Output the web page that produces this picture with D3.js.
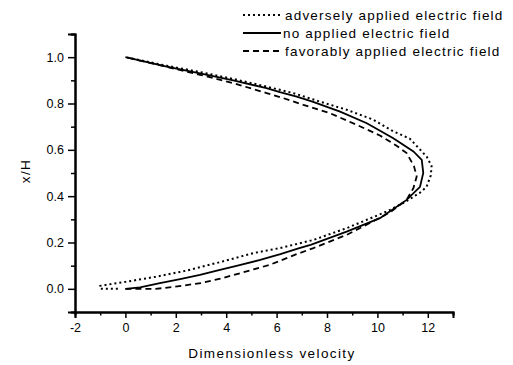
<!DOCTYPE html>
<html>
<head>
<meta charset="utf-8">
<script src="https://cdn.jsdelivr.net/npm/d3@7"></script>
<style>
  html, body { margin: 0; padding: 0; background: #fff; }
  svg { display: block; font-family: "Liberation Sans", Arial, sans-serif; }
</style>
</head>
<body>
<svg id="chart" width="513" height="365"></svg>
<script>
// Velocity profiles across the channel (u = dimensionless velocity, y = x/H)
const seriesNames = [
  "adversely applied electric field",
  "no applied electric field",
  "favorably applied electric field"
];

const adverseU = [-0.3, -1, -1, 0, 1.2, 2.4, 3.75, 5.07, 6.13, 7.46, 8.78, 9.58, 10.4, 11.1, 11.69, 11.95, 12.12, 12.15, 11.96, 11.29, 10.63, 9.84, 8.78, 7.72, 6.66, 5.6, 4.28, 2.96, 1.64, 0];
const adverseY = [0, 0, 0.013, 0.03, 0.052, 0.078, 0.115, 0.154, 0.176, 0.211, 0.262, 0.298, 0.335, 0.375, 0.415, 0.44, 0.49, 0.53, 0.57, 0.648, 0.68, 0.73, 0.773, 0.808, 0.845, 0.873, 0.906, 0.936, 0.963, 1.0];

const noFieldU = [0, 0.58, 1.37, 2.17, 2.96, 3.75, 4.45, 5.35, 6.15, 6.9, 7.35, 8.78, 10.1, 11.16, 11.69, 11.82, 11.76, 11.43, 10.63, 9.58, 8.52, 7.45, 6.8, 6.13, 5.6, 4.28, 2.96, 1.64, 0];
const noFieldY = [0, 0.006, 0.025, 0.042, 0.06, 0.082, 0.10, 0.125, 0.15, 0.176, 0.19, 0.247, 0.305, 0.384, 0.44, 0.50, 0.557, 0.593, 0.65, 0.715, 0.765, 0.807, 0.83, 0.849, 0.866, 0.90, 0.93, 0.959, 1.0];

const favorU = [0, 1.2, 1.9, 3.0, 3.8, 4.5, 5.74, 6.8, 7.46, 8.78, 9.7, 10.5, 11.16, 11.43, 11.56, 11.45, 11.16, 10.76, 10.1, 9.18, 8.12, 7.06, 6.27, 5.6, 4.28, 2.96, 1.64, 0];
const favorY = [0, 0, 0.008, 0.025, 0.045, 0.066, 0.104, 0.15, 0.176, 0.233, 0.284, 0.33, 0.384, 0.435, 0.485, 0.53, 0.586, 0.618, 0.662, 0.708, 0.758, 0.794, 0.823, 0.845, 0.888, 0.924, 0.958, 1.0];

const xTicks = [-2, 0, 2, 4, 6, 8, 10, 12];
const xMinorTicks = [-1, 1, 3, 5, 7, 9, 11, 13];
const yTicks = [0.0, 0.2, 0.4, 0.6, 0.8, 1.0];
const yMinorTicks = [-0.1, 0.1, 0.3, 0.5, 0.7, 0.9, 1.1];

const svg = d3.select("#chart");

const x = d3.scaleLinear().domain([-2, 13]).range([75, 453]);
const y = d3.scaleLinear().domain([-0.1, 1.1]).range([312, 34]);

// Axes: left and bottom only, ticks pointing outward
const xAxis = svg.append("g").attr("transform", `translate(0,${y(-0.1)})`);
xAxis.call(d3.axisBottom(x).tickValues(xTicks).tickSize(6).tickPadding(5).tickFormat(d => String(d)));
const xMinor = svg.append("g").attr("transform", `translate(0,${y(-0.1)})`);
xMinor.call(d3.axisBottom(x).tickValues(xMinorTicks).tickSize(3.5).tickFormat(""));

const yAxis = svg.append("g").attr("transform", `translate(${x(-2)},0)`);
yAxis.call(d3.axisLeft(y).tickValues(yTicks).tickSize(7).tickPadding(4).tickFormat(d => d.toFixed(1)));
const yMinor = svg.append("g").attr("transform", `translate(${x(-2)},0)`);
yMinor.call(d3.axisLeft(y).tickValues(yMinorTicks).tickSize(4).tickFormat(""));

svg.selectAll(".domain").attr("stroke", "#000").attr("stroke-width", 2);
svg.selectAll(".tick line").attr("stroke", "#000").attr("stroke-width", 1.5);
svg.selectAll(".tick text")
  .attr("fill", "#000")
  .style("font-size", "12.5px")
  .style("font-family", "'Liberation Sans', Arial, sans-serif");

// Axis titles
svg.append("text")
  .attr("x", 272).attr("y", 358)
  .attr("text-anchor", "middle")
  .style("font-size", "13.5px")
  .style("letter-spacing", "1.4px")
  .text("Dimensionless velocity");

svg.append("text")
  .attr("transform", "translate(30,171) rotate(-90)")
  .attr("text-anchor", "middle")
  .style("font-size", "13.5px")
  .style("letter-spacing", "1.4px")
  .text("x/H");

// Profile curves
const line = d3.line()
  .x(d => x(d[0]))
  .y(d => y(d[1]))
  .curve(d3.curveLinear);

const styles = [
  { dash: "2,3", width: 2 },
  { dash: null, width: 1.8 },
  { dash: "6,4", width: 1.8 }
];

const series = [
  d3.zip(adverseU, adverseY),
  d3.zip(noFieldU, noFieldY),
  d3.zip(favorU, favorY)
];

series.forEach((pts, i) => {
  svg.append("path")
    .datum(pts)
    .attr("d", line)
    .attr("fill", "none")
    .attr("stroke", "#000")
    .attr("stroke-width", styles[i].width)
    .attr("stroke-dasharray", styles[i].dash);
});

// Legend
const legend = svg.append("g");
seriesNames.forEach((name, i) => {
  const yy = 15 + i * 18;
  legend.append("line")
    .attr("x1", 243).attr("x2", 281)
    .attr("y1", yy).attr("y2", yy)
    .attr("stroke", "#000")
    .attr("stroke-width", styles[i].width)
    .attr("stroke-dasharray", styles[i].dash);
  legend.append("text")
    .attr("x", i === 1 ? 283 : 285)
    .attr("y", yy + 5)
    .style("font-size", "13.5px")
    .style("letter-spacing", "1.2px")
    .text(name);
});
</script>
</body>
</html>
